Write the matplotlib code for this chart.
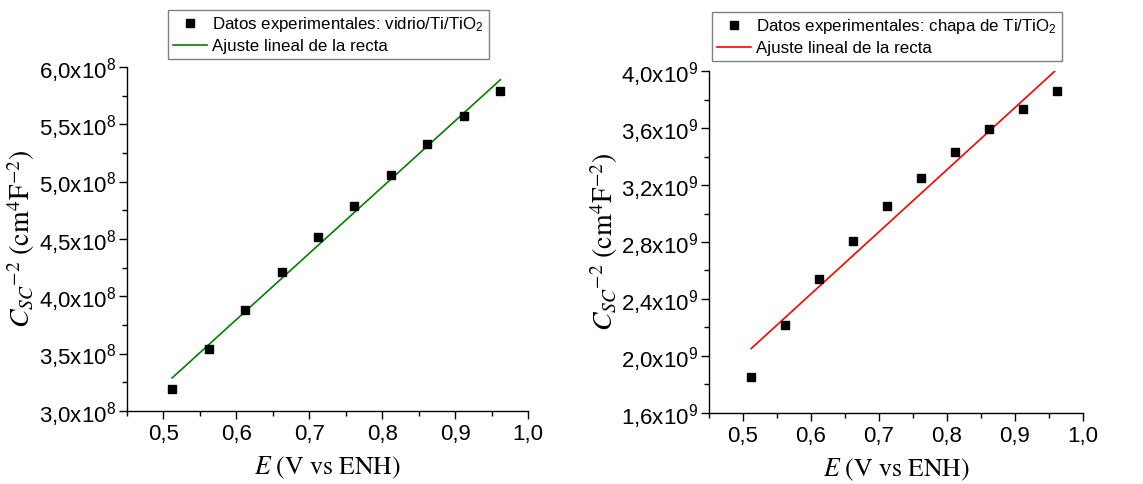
import numpy as np
import matplotlib
matplotlib.use("Agg")
import matplotlib.pyplot as plt
from matplotlib.ticker import FuncFormatter, MultipleLocator

plt.rcParams['font.family'] = ['Liberation Sans', 'DejaVu Sans']
plt.rcParams['mathtext.fontset'] = 'custom'
plt.rcParams['mathtext.rm'] = 'Liberation Sans'
plt.rcParams['mathtext.it'] = 'Liberation Sans:italic'

# potential (V vs ENH)
E = [0.512, 0.562, 0.612, 0.662, 0.712, 0.762, 0.812, 0.862, 0.912, 0.962]
# Mott-Schottky data, cm^4 F^-2
vidrio = [3.19e8, 3.54e8, 3.88e8, 4.21e8, 4.52e8, 4.79e8, 5.06e8, 5.33e8, 5.57e8, 5.79e8]
chapa = [1.85e9, 2.22e9, 2.54e9, 2.81e9, 3.05e9, 3.25e9, 3.43e9, 3.59e9, 3.73e9, 3.86e9]

labels_data = ["Datos experimentales: vidrio/Ti/TiO$_2$",
               "Datos experimentales: chapa de Ti/TiO$_2$"]
label_fit = "Ajuste lineal de la recta"


def sci_fmt(exp):
    def f(v, pos):
        s = "{:.1f}".format(v / 10**exp).replace('.', ',')
        return s + "x10$^{" + str(exp) + "}$"
    return FuncFormatter(f)


def comma_fmt(v, pos):
    return "{:.1f}".format(v).replace('.', ',')


fig = plt.figure(figsize=(11.43, 4.84), dpi=100)
ax1 = fig.add_axes([0.111, 0.151, 0.351, 0.7106])
ax2 = fig.add_axes([0.6203, 0.1467, 0.3272, 0.7066])

panels = [
    (ax1, vidrio, '#008000', labels_data[0], (3.0e8, 6.0e8), 0.5e8, 0.25e8, 8, (489, 10)),
    (ax2, chapa, '#ff0000', labels_data[1], (1.6e9, 4.0e9), 0.4e9, 0.2e9, 9, (1062, 12)),
]

x = np.array(E)
for ax, y, col, lab, ylim, major, minor, exp, legpos in panels:
    y = np.array(y)
    ax.plot(x, y, 's', color='black', ms=6, label=lab, zorder=3)
    k, b = np.polyfit(x, y, 1)
    ax.plot(x, k * x + b, '-', color=col, lw=1.2, label=label_fit)
    ax.set_xlim(0.45, 1.0)
    ax.set_ylim(*ylim)
    ax.xaxis.set_major_locator(MultipleLocator(0.1))
    ax.xaxis.set_minor_locator(MultipleLocator(0.05))
    ax.yaxis.set_major_locator(MultipleLocator(major))
    ax.yaxis.set_minor_locator(MultipleLocator(minor))
    ax.xaxis.set_major_formatter(FuncFormatter(comma_fmt))
    ax.yaxis.set_major_formatter(sci_fmt(exp))
    ax.spines['top'].set_visible(False)
    ax.spines['right'].set_visible(False)
    for s in ('left', 'bottom'):
        ax.spines[s].set_linewidth(1.0)
    ax.tick_params(which='major', direction='out', length=6, width=1.0, labelsize=16)
    ax.tick_params(axis='y', which='major', pad=2)
    ax.tick_params(which='minor', direction='out', length=3.5, width=1.0)
    ax.set_xlabel(r"$E\ (\mathrm{V\ vs\ ENH})$", fontsize=18.5, math_fontfamily='stix', labelpad=7)
    ax.set_ylabel(r"${C_{SC}}^{-2}\ (\mathrm{cm}^{4}\mathrm{F}^{-2})$", fontsize=20,
                  math_fontfamily='stix', labelpad=1)
    ax.legend(loc='upper right', bbox_to_anchor=(legpos[0] / 1143, 1 - legpos[1] / 484),
              bbox_transform=fig.transFigure, fontsize=12.2, frameon=True, fancybox=False,
              edgecolor='#808080', framealpha=1, borderpad=0.3, handlelength=2.0,
              handletextpad=0.3, labelspacing=0.3, borderaxespad=0)

fig.savefig("out.png", dpi=100)
